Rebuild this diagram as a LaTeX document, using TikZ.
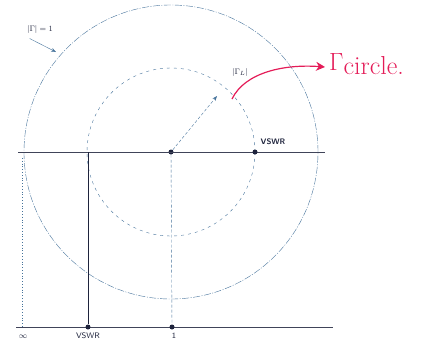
\documentclass[tikz,border=0pt]{standalone}
\usepackage{amsmath}
\usetikzlibrary{arrows.meta,positioning,calc}
\definecolor{ink}{RGB}{30,35,60}
\definecolor{pen}{RGB}{70,115,155}
\definecolor{marker}{RGB}{228,28,88}

\begin{document}
\begin{tikzpicture}[x=1pt, y=-1pt, font=\sffamily\footnotesize,
  dot/.style={circle, fill=ink, inner sep=0pt, minimum size=5pt},
  axis/.style={ink!85, thin},
  guide/.style={pen, densely dashed, thin}]
  \useasboundingbox (0,0) rectangle (433,343);
  % ---- circles: |Gamma| = 1 and |Gamma_L| ----
  \node[dot] (O) at (171,152) {};
  \draw[pen, dash pattern=on 7pt off 1.5pt on 1pt off 1.5pt] (O) circle (147pt);
  \draw[pen, dash pattern=on 3pt off 4pt] (O) circle (84pt);
  % ---- real axis and projection lines ----
  \coordinate (hl) at (18,152);
  \coordinate (hr) at (325,152);
  \draw[axis] (hl) -- (hr);
  \node[dot] (V) at (255,152) {};
  \node[ink] (vlab) at (273,142) {\bfseries VSWR};
  \coordinate (bl) at (16,327);
  \coordinate (br) at (333,327);
  \draw[axis] (bl) -- (br);
  \node[dot] (Vb) at (88,327) {};
  \node[dot] (one) at (172,327) {};
  \draw[ink, semithick] (88,152) -- (Vb);
  \draw[guide] (O) -- (one);
  \draw[pen, dotted, thick] (22,158) -- (22,327);
  \node[ink] (inf) at (23,337) {$\infty$};
  \node[ink] (vb) at (88,336) {VSWR};
  \node[ink] (onelab) at (174,336) {1};
  % ---- radius arrow ----
  \coordinate (GL) at (217,96);
  \draw[guide, -{Stealth[length=5pt]}] (O) -- (GL);
  \node[ink] (gll) at (240,72) {$|\Gamma_L|$};
  \node[ink] (g1) at (40,29) {$|\Gamma| = 1$};
  \coordinate (g1tip) at (56,52);
  \draw[pen, -{Stealth[length=5pt]}] ($(g1.south west)+(6,2)$) -- (g1tip);
  % ---- red note ----
  \node[marker, font=\fontsize{26}{28}\selectfont, anchor=west, inner sep=1pt]
    (gc) at (328,64) {$\Gamma$\raisebox{-4pt}{circle.}};
  \draw[marker, very thick, -{Stealth[length=9pt, width=9pt]}]
    (232,99) .. controls (245,72) and (285,64) .. ($(gc.west)+(-3,3)$);
\end{tikzpicture}
\end{document}
